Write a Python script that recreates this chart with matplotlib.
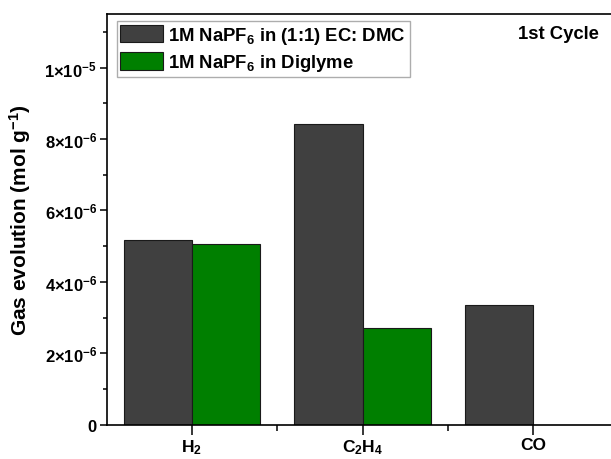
import numpy as np
import matplotlib
matplotlib.use('Agg')
import matplotlib.pyplot as plt
from matplotlib.ticker import FixedLocator, MultipleLocator, FuncFormatter

plt.rcParams['font.family'] = ['Liberation Sans', 'DejaVu Sans']
plt.rcParams['font.weight'] = 'bold'
plt.rcParams['mathtext.fontset'] = 'custom'
plt.rcParams['mathtext.rm'] = 'Liberation Sans:bold'
plt.rcParams['mathtext.it'] = 'Liberation Sans:italic:bold'
plt.rcParams['mathtext.bf'] = 'Liberation Sans:bold'

# Data (mol g^-1)
gases = ['H$_2$', 'C$_2$H$_4$', 'CO']
ec_dmc = [5.18e-6, 8.41e-6, 3.34e-6]
diglyme = [5.07e-6, 2.72e-6, 0.0]
labels = ['1M NaPF$_6$ in (1:1) EC: DMC', '1M NaPF$_6$ in Diglyme']
colors = ['#404040', '#007F00']

fig = plt.figure(figsize=(6.11, 4.60), dpi=100)
# axes runs off the right edge of the picture, like the reference crop
ax = fig.add_axes([106.7 / 611, 34.3 / 460, 504.3 / 611, 410.7 / 460])

x = np.arange(len(gases))
w = 0.4
ax.bar(x - w / 2, ec_dmc, w, color=colors[0], edgecolor='#1a1a1a', linewidth=0.8, label=labels[0])
ax.bar(x + w / 2, diglyme, w, color=colors[1], edgecolor='#1a1a1a', linewidth=0.8, label=labels[1])

ax.set_xlim(-0.5, 2.457)
ax.set_ylim(0, 1.15e-5)

ax.set_xticks(x)
ax.set_xticklabels(gases, fontsize=12.5)
ax.xaxis.set_minor_locator(FixedLocator([0.5, 1.5, 2.5]))
ax.yaxis.set_major_locator(MultipleLocator(2e-6))
ax.yaxis.set_minor_locator(MultipleLocator(1e-6))


def sci_fmt(v, pos):
    if abs(v) < 1e-12:
        return '0'
    exp = int(np.floor(np.log10(abs(v)) + 1e-9))
    mant = v / 10 ** exp
    return r'$%d{\times}10^{%d}$' % (round(mant), exp)


ax.yaxis.set_major_formatter(FuncFormatter(sci_fmt))
ax.tick_params(axis='y', which='major', direction='out', length=5, width=1.1, labelsize=12, pad=2)
ax.tick_params(axis='y', which='minor', direction='out', length=3, width=1.1)
ax.tick_params(axis='x', which='major', direction='out', length=7, width=1.1, pad=2)
ax.tick_params(axis='x', which='minor', direction='out', length=4, width=1.1)

for s in ['left', 'bottom', 'top']:
    ax.spines[s].set_linewidth(1.2)
ax.spines['right'].set_visible(False)

ax.set_ylabel('Gas evolution (mol g$^{-1}$)', fontsize=15, fontweight='bold')
ax.yaxis.set_label_coords(-0.146, 0.5)

ax.text(0.976, 0.941, '1st Cycle', transform=ax.transAxes, fontsize=13.3,
        fontweight='bold', ha='right', va='baseline')

leg = ax.legend(loc='upper left', bbox_to_anchor=(0.0198, 0.983), borderaxespad=0,
                fontsize=13.3, frameon=True, fancybox=False, handlelength=2.3,
                handleheight=1.08, borderpad=0.2, labelspacing=0.35, handletextpad=0.3)
leg.get_frame().set_edgecolor('#999999')
leg.get_frame().set_linewidth(1.0)

fig.savefig('out.png', dpi=100)
